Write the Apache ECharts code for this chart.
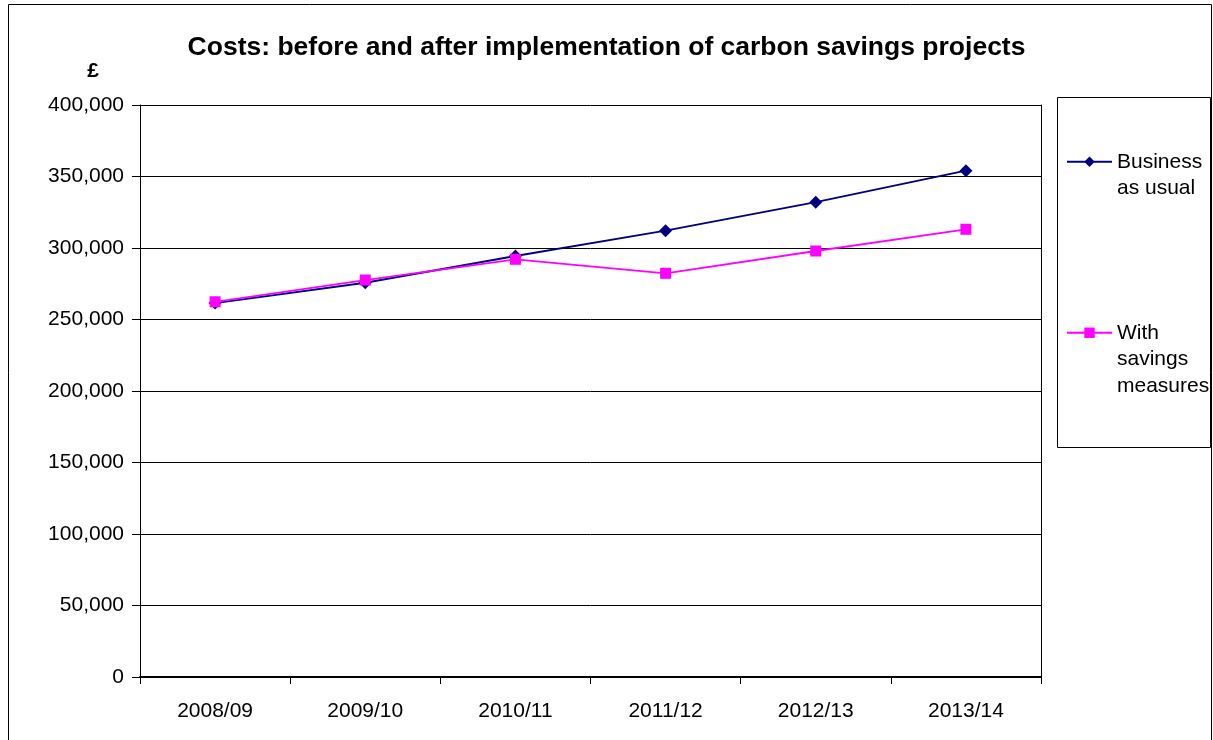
<!DOCTYPE html>
<html>
<head>
<meta charset="utf-8">
<script src="https://cdn.jsdelivr.net/npm/echarts@6/dist/echarts.min.js"></script>
<style>
html,body{margin:0;padding:0;background:#fff;}
#chart{width:1213px;height:740px;}
</style>
</head>
<body>
<div id="chart"></div>
<script>
const titleText = 'Costs: before and after implementation of carbon savings projects';
const yAxisName = '£';
const categories = ['2008/09', '2009/10', '2010/11', '2011/12', '2012/13', '2013/14'];
const seriesNames = ['Business as usual', 'With savings measures'];
const legendLabels = [' \nBusiness\nas usual', ' \n \nWith\nsavings\nmeasures'];
const businessAsUsual = [261500, 275700, 294400, 312100, 332000, 354100];
const withSavings = [262400, 277600, 292100, 282300, 297900, 313100];
const yTicks = { min: 0, max: 400000, interval: 50000 };

const FONT = '"Liberation Sans", Arial, sans-serif';
const chart = echarts.init(document.getElementById('chart'), null, { renderer: 'canvas' });

const option = {
  animation: false,
  backgroundColor: '#ffffff',
  textStyle: { fontFamily: FONT, color: '#000' },
  title: {
    text: titleText,
    left: 'center',
    top: 34,
    padding: 0,
    textStyle: { fontFamily: FONT, fontSize: 26.5, fontWeight: 'bold', color: '#000' }
  },
  graphic: [
    { type: 'rect', silent: true, z: -1,
      shape: { x: 8.5, y: 4.5, width: 1203, height: 800 },
      style: { fill: 'none', stroke: '#000', lineWidth: 1 } },
    { type: 'rect', silent: true, z: -1,
      shape: { x: 1057.5, y: 97.5, width: 153, height: 350 },
      style: { fill: 'none', stroke: '#000', lineWidth: 1 } }
  ],
  legend: {
    orient: 'vertical',
    left: 1066,
    top: 122,
    padding: 0,
    itemGap: 65,
    itemWidth: 45,
    itemHeight: 13,
    formatter: function (name) { return legendLabels[seriesNames.indexOf(name)]; },
    textStyle: { fontFamily: FONT, fontSize: 21, color: '#000', lineHeight: 26.5 },
    data: seriesNames
  },
  grid: { left: 140, right: 172, top: 105, bottom: 63, containLabel: false },
  xAxis: {
    type: 'category',
    data: categories,
    boundaryGap: true,
    axisLine: { show: true, lineStyle: { color: '#000', width: 2 } },
    axisTick: { show: true, alignWithLabel: false, length: 7, lineStyle: { color: '#000', width: 1 } },
    axisLabel: { color: '#000', fontFamily: FONT, fontSize: 21, margin: 24 },
    splitLine: { show: false }
  },
  yAxis: [
    {
      type: 'value',
      min: yTicks.min, max: yTicks.max, interval: yTicks.interval,
      name: yAxisName,
      nameLocation: 'end',
      nameGap: 34,
      nameTextStyle: { fontFamily: FONT, fontSize: 21, fontWeight: 'bold', color: '#000', align: 'center', verticalAlign: 'middle', padding: [0, 94, 0, 0] },
      axisLine: { show: true, onZero: false, lineStyle: { color: '#000', width: 1 } },
      axisTick: { show: true, length: 8, lineStyle: { color: '#000', width: 1 } },
      axisLabel: {
        color: '#000', fontFamily: FONT, fontSize: 21, margin: 16,
        formatter: function (v) { return v.toLocaleString('en-US'); }
      },
      splitLine: { show: true, lineStyle: { color: '#000', width: 1 } }
    },
    {
      type: 'value',
      position: 'right',
      min: yTicks.min, max: yTicks.max, interval: yTicks.interval,
      axisLine: { show: true, onZero: false, lineStyle: { color: '#000', width: 1 } },
      axisTick: { show: false },
      axisLabel: { show: false },
      splitLine: { show: false }
    }
  ],
  series: [
    {
      name: seriesNames[0],
      type: 'line',
      data: businessAsUsual,
      symbol: 'diamond',
      symbolSize: 13,
      lineStyle: { color: '#000080', width: 1.8 },
      itemStyle: { color: '#000080' },
      z: 3
    },
    {
      name: seriesNames[1],
      type: 'line',
      data: withSavings,
      symbol: 'rect',
      symbolSize: 11,
      lineStyle: { color: '#FF00FF', width: 1.8 },
      itemStyle: { color: '#FF00FF' },
      z: 4
    }
  ]
};
chart.setOption(option);
</script>
</body>
</html>
